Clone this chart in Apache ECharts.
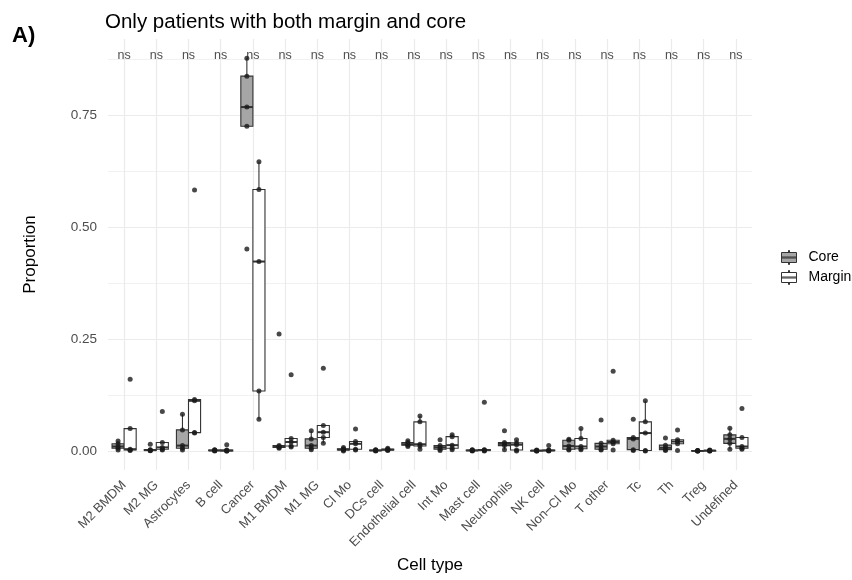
<!DOCTYPE html>
<html>
<head>
<meta charset="utf-8">
<script src="https://cdn.jsdelivr.net/npm/echarts@6/dist/echarts.min.js"></script>
<style>
  html, body { margin: 0; padding: 0; background: #ffffff; }
  #chart { width: 852px; height: 580px; }
</style>
</head>
<body>
<div id="chart"></div>
<script>
// Cell types on the x axis
const categories = [
  'M2 BMDM', 'M2 MG', 'Astrocytes', 'B cell', 'Cancer', 'M1 BMDM', 'M1 MG',
  'Cl Mo', 'DCs cell', 'Endothelial cell', 'Int Mo', 'Mast cell', 'Neutrophils',
  'NK cell', 'Non\u2013Cl Mo', 'T other', 'Tc', 'Th', 'Treg', 'Undefined'
];

// Per-patient proportions in the tumour core (one list per cell type)
const coreValues = [
  [0.002, 0.006, 0.010, 0.016, 0.022],
  [0.0005, 0.001, 0.002, 0.003, 0.015],
  [0.002, 0.006, 0.012, 0.047, 0.082],
  [0.000, 0.001, 0.001, 0.002, 0.003],
  [0.451, 0.725, 0.768, 0.837, 0.877],
  [0.006, 0.008, 0.010, 0.012, 0.261],
  [0.003, 0.006, 0.012, 0.027, 0.045],
  [0.000, 0.002, 0.003, 0.005, 0.008],
  [0.000, 0.001, 0.001, 0.002, 0.003],
  [0.010, 0.013, 0.015, 0.019, 0.023],
  [0.001, 0.004, 0.008, 0.012, 0.025],
  [0.000, 0.001, 0.001, 0.002, 0.003],
  [0.003, 0.012, 0.016, 0.019, 0.045],
  [0.000, 0.000, 0.001, 0.001, 0.002],
  [0.002, 0.004, 0.011, 0.024, 0.026],
  [0.002, 0.004, 0.010, 0.017, 0.069],
  [0.001, 0.003, 0.027, 0.030, 0.071],
  [0.001, 0.003, 0.007, 0.013, 0.029],
  [0.000, 0.000, 0.000, 0.001, 0.001],
  [0.004, 0.017, 0.027, 0.036, 0.051]
];

// Per-patient proportions in the tumour margin
const marginValues = [
  [0.001, 0.002, 0.004, 0.050, 0.160],
  [0.002, 0.004, 0.008, 0.019, 0.088],
  [0.040, 0.041, 0.112, 0.115, 0.583],
  [0.000, 0.000, 0.001, 0.002, 0.014],
  [0.071, 0.134, 0.423, 0.584, 0.646],
  [0.009, 0.011, 0.020, 0.028, 0.170],
  [0.017, 0.030, 0.042, 0.057, 0.185],
  [0.002, 0.004, 0.016, 0.021, 0.049],
  [0.001, 0.002, 0.003, 0.004, 0.006],
  [0.004, 0.011, 0.015, 0.065, 0.078],
  [0.003, 0.006, 0.013, 0.032, 0.036],
  [0.000, 0.001, 0.002, 0.003, 0.109],
  [0.000, 0.002, 0.014, 0.018, 0.025],
  [0.000, 0.001, 0.001, 0.002, 0.012],
  [0.003, 0.005, 0.010, 0.028, 0.050],
  [0.002, 0.016, 0.020, 0.024, 0.178],
  [0.000, 0.001, 0.040, 0.065, 0.112],
  [0.001, 0.016, 0.021, 0.025, 0.047],
  [0.000, 0.000, 0.001, 0.001, 0.002],
  [0.004, 0.006, 0.010, 0.030, 0.095]
];

// Significance of Core vs Margin per cell type
const significance = [
  'ns', 'ns', 'ns', 'ns', 'ns', 'ns', 'ns', 'ns', 'ns', 'ns',
  'ns', 'ns', 'ns', 'ns', 'ns', 'ns', 'ns', 'ns', 'ns', 'ns'
];
const significanceY = 0.882;

// Y axis ticks
const yMajorTicks = [0, 0.25, 0.5, 0.75];
const yMinorTicks = [0.125, 0.375, 0.625, 0.875];

// Layout
const GRID = { left: 108, top: 39, width: 644, height: 431 };
const FONT = '"Liberation Sans", Arial, Helvetica, sans-serif';
const CORE_FILL = '#a6a6a6';
const MARGIN_FILL = '#ffffff';
const OUTLINE = '#333333';
const GRID_COLOR = '#ebebeb';

// Tukey box statistics, quantile type 7
function quantile(sorted, p) {
  const h = (sorted.length - 1) * p;
  const lo = Math.floor(h);
  const hi = Math.min(lo + 1, sorted.length - 1);
  return sorted[lo] + (h - lo) * (sorted[hi] - sorted[lo]);
}
function boxStats(values, idx) {
  const s = values.slice().sort((a, b) => a - b);
  const q1 = quantile(s, 0.25), med = quantile(s, 0.5), q3 = quantile(s, 0.75);
  const iqr = q3 - q1;
  const inside = s.filter(v => v >= q1 - 1.5 * iqr && v <= q3 + 1.5 * iqr);
  return [idx, inside[0], q1, med, q3, inside[inside.length - 1]];
}
function pointData(groups) {
  const out = [];
  groups.forEach((vals, i) => vals.forEach(v => out.push([i, v])));
  return out;
}

// Each box takes 3/8 of a category band; Core on the left, Margin on the right
const boxFraction = 0.375;
const dodgePx = GRID.width / categories.length * boxFraction / 2;

function boxRenderer(side, fill) {
  return function (params, api) {
    const idx = api.value(0);
    const band = api.size([1, 0])[0];
    const w = band * boxFraction;
    const cx = api.coord([idx, 0])[0] + side * w / 2;
    const yAt = k => api.coord([idx, api.value(k)])[1];
    const yLo = yAt(1), yQ1 = yAt(2), yMed = yAt(3), yQ3 = yAt(4), yHi = yAt(5);
    return {
      type: 'group',
      children: [
        { type: 'line', shape: { x1: cx, y1: yHi, x2: cx, y2: yQ3 }, style: { stroke: OUTLINE, lineWidth: 1.1 } },
        { type: 'line', shape: { x1: cx, y1: yQ1, x2: cx, y2: yLo }, style: { stroke: OUTLINE, lineWidth: 1.1 } },
        { type: 'rect', shape: { x: cx - w / 2, y: yQ3, width: w, height: Math.max(yQ1 - yQ3, 0.5) },
          style: { fill: fill, stroke: OUTLINE, lineWidth: 1.1 } },
        { type: 'line', shape: { x1: cx - w / 2, y1: yMed, x2: cx + w / 2, y2: yMed },
          style: { stroke: OUTLINE, lineWidth: 2 } }
      ]
    };
  };
}

const legendIcon = 'path://M8,0h1v2h-1zM1,2h15v10h-15zM1,6.5h15v1h-15zM8,12h1v2h-1z';

const chart = echarts.init(document.getElementById('chart'), null, { renderer: 'canvas' });

chart.setOption({
  backgroundColor: '#ffffff',
  animation: false,
  textStyle: { fontFamily: FONT },
  title: [
    { text: 'A)', left: 7, top: 20, textStyle: { fontFamily: FONT, fontSize: 22, fontWeight: 'bold', color: '#000' } },
    { text: 'Only patients with both margin and core', left: 100, top: 7,
      textStyle: { fontFamily: FONT, fontSize: 20.5, fontWeight: 'normal', color: '#000' } }
  ],
  legend: {
    orient: 'vertical',
    left: 776,
    top: 245,
    itemWidth: 17,
    itemHeight: 14,
    itemGap: 5,
    textStyle: { fontFamily: FONT, fontSize: 14, color: '#000', padding: [0, 0, 0, 6] },
    data: [
      { name: 'Core', icon: legendIcon, itemStyle: { color: CORE_FILL, borderColor: OUTLINE, borderWidth: 1 } },
      { name: 'Margin', icon: legendIcon, itemStyle: { color: MARGIN_FILL, borderColor: OUTLINE, borderWidth: 1 } }
    ],
    selectedMode: false
  },
  grid: Object.assign({ containLabel: false }, GRID),
  xAxis: [
    {
      type: 'category',
      data: categories,
      boundaryGap: true,
      name: 'Cell type',
      nameLocation: 'middle',
      nameGap: 86,
      nameTextStyle: { fontFamily: FONT, fontSize: 17, color: '#000' },
      axisLine: { show: false },
      axisTick: { show: false },
      splitLine: { show: false },
      axisLabel: { rotate: 45, interval: 0, margin: 13, fontSize: 13, color: '#4d4d4d', fontFamily: FONT }
    },
    {
      // vertical grid lines through category centres
      type: 'value',
      min: -0.5,
      max: categories.length - 0.5,
      position: 'bottom',
      axisLine: { show: false },
      axisLabel: { show: false },
      axisTick: { show: false, customValues: categories.map((c, i) => i) },
      splitLine: { show: true, lineStyle: { color: GRID_COLOR, width: 1.2 } }
    }
  ],
  yAxis: [
    {
      type: 'value',
      min: -0.0425,
      max: 0.92,
      name: 'Proportion',
      nameLocation: 'middle',
      nameGap: 69,
      nameRotate: 90,
      nameTextStyle: { fontFamily: FONT, fontSize: 17, color: '#000' },
      axisLine: { show: false },
      axisTick: { show: false, customValues: yMajorTicks },
      axisLabel: { customValues: yMajorTicks, formatter: v => v.toFixed(2), fontSize: 13.5, color: '#4d4d4d', margin: 11, fontFamily: FONT },
      splitLine: { show: true, lineStyle: { color: GRID_COLOR, width: 1.2 } }
    },
    {
      // minor horizontal grid lines
      type: 'value',
      min: -0.0425,
      max: 0.92,
      position: 'left',
      axisLine: { show: false },
      axisLabel: { show: false },
      axisTick: { show: false, customValues: yMinorTicks },
      splitLine: { show: true, lineStyle: { color: GRID_COLOR, width: 0.7 } }
    }
  ],
  series: [
    {
      name: 'Core',
      type: 'custom',
      xAxisIndex: 0, yAxisIndex: 0,
      renderItem: boxRenderer(-1, CORE_FILL),
      encode: { x: 0, y: [1, 2, 3, 4, 5] },
      itemStyle: { color: CORE_FILL },
      data: coreValues.map(boxStats),
      z: 3
    },
    {
      name: 'Margin',
      type: 'custom',
      xAxisIndex: 0, yAxisIndex: 0,
      renderItem: boxRenderer(1, MARGIN_FILL),
      encode: { x: 0, y: [1, 2, 3, 4, 5] },
      itemStyle: { color: MARGIN_FILL },
      data: marginValues.map(boxStats),
      z: 3
    },
    {
      name: 'Core points',
      type: 'scatter',
      xAxisIndex: 0, yAxisIndex: 0,
      symbolSize: 5,
      symbolOffset: [-dodgePx, 0],
      itemStyle: { color: '#1a1a1a' },
      data: pointData(coreValues),
      silent: true,
      z: 5
    },
    {
      name: 'Margin points',
      type: 'scatter',
      xAxisIndex: 0, yAxisIndex: 0,
      symbolSize: 5,
      symbolOffset: [dodgePx, 0],
      itemStyle: { color: '#1a1a1a' },
      data: pointData(marginValues),
      silent: true,
      z: 5
    },
    {
      name: 'Significance',
      type: 'scatter',
      xAxisIndex: 0, yAxisIndex: 0,
      symbolSize: 0,
      silent: true,
      data: significance.map((s, i) => ({ value: [i, significanceY], label: { formatter: s } })),
      label: {
        show: true,
        position: 'inside',
        fontFamily: FONT,
        fontSize: 12.5,
        color: '#222222'
      },
      z: 6
    }
  ]
});
</script>
</body>
</html>
